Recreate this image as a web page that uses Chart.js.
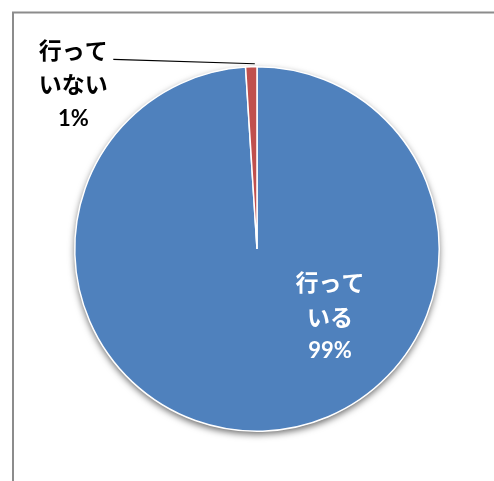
<!DOCTYPE html>
<html lang="ja">
<head>
<meta charset="utf-8">
<script src="https://cdn.jsdelivr.net/npm/chart.js@4/dist/chart.umd.min.js"></script>
<style>
  html, body { margin: 0; padding: 0; background: #ffffff; overflow: hidden; }
  #wrap { position: relative; width: 494px; height: 481px; }
</style>
</head>
<body>
<div id="wrap"><canvas id="chart" width="494" height="481"></canvas></div>
<script>
// Survey answers and their shares (%)
const categories = ['行っている', '行っていない'];
const labelLines = [['行って', 'いる'], ['行って', 'いない']];
const shares = [99, 1];
const sliceColors = ['#4F81BD', '#C0504D'];

// Chart frame (top and left edges visible) and pie drop shadow
const framePlugin = {
  id: 'frame',
  beforeDraw(chart) {
    const ctx = chart.ctx;
    ctx.save();
    ctx.strokeStyle = '#8c8c8c';
    ctx.lineWidth = 2;
    ctx.beginPath();
    ctx.moveTo(13, 600);
    ctx.lineTo(13, 12.5);
    ctx.lineTo(600, 12.5);
    ctx.stroke();
    ctx.restore();
  },
  beforeDatasetsDraw(chart) {
    const arc = chart.getDatasetMeta(0).data[0];
    if (!arc) return;
    const ctx = chart.ctx;
    ctx.save();
    ctx.shadowColor = 'rgba(0,0,0,0.6)';
    ctx.shadowBlur = 7;
    ctx.shadowOffsetY = 3;
    ctx.fillStyle = '#ffffff';
    ctx.beginPath();
    ctx.arc(arc.x, arc.y, arc.outerRadius, 0, Math.PI * 2);
    ctx.fill();
    ctx.restore();
  }
};

// Data labels: category name plus percentage, placed relative to the pie
const labelPlugin = {
  id: 'sliceLabels',
  afterDatasetsDraw(chart) {
    const meta = chart.getDatasetMeta(0);
    const ctx = chart.ctx;
    const cx = meta.data[0].x, cy = meta.data[0].y, r = meta.data[0].outerRadius;
    // label anchor positions as fractions of the radius from the centre
    const anchors = [
      { dx: 0.40, dy: 0.185, color: '#ffffff', gapName: 35, gapPct: 33 },
      { dx: -1.008, dy: -1.09, color: '#000000', gapName: 34, gapPct: 35 }
    ];
    ctx.save();
    ctx.textAlign = 'center';
    ctx.textBaseline = 'middle';
    shares.forEach((v, i) => {
      const a = anchors[i];
      const x = cx + a.dx * r, y = cy + a.dy * r;
      ctx.fillStyle = a.color;
      ctx.font = 'bold 23px "Noto Sans CJK JP"';
      labelLines[i].forEach((t, k) => ctx.fillText(t, x, y + k * a.gapName));
      ctx.font = 'bold 22px Lato, "Noto Sans CJK JP"';
      ctx.fillText(v + '%', x, y + (labelLines[i].length - 1) * a.gapName + a.gapPct);
    });
    // leader line for the small slice
    const small = meta.data[1];
    const ang = small.endAngle - 0.012;
    const ex = cx + Math.cos(ang) * (r + 1), ey = cy + Math.sin(ang) * (r + 1);
    const lx = cx - 1.008 * r + 40, ly = cy - 1.09 * r + 9;
    ctx.strokeStyle = '#000000';
    ctx.lineWidth = 1.2;
    ctx.beginPath();
    ctx.moveTo(lx, ly);
    ctx.lineTo(ex, ey - 2);
    ctx.stroke();
    ctx.restore();
  }
};

new Chart(document.getElementById('chart'), {
  type: 'pie',
  data: {
    labels: categories,
    datasets: [{
      data: shares,
      backgroundColor: sliceColors,
      borderColor: '#ffffff',
      borderWidth: 1.5
    }]
  },
  options: {
    responsive: false,
    animation: false,
    layout: { padding: { left: 74, right: 54, top: 66, bottom: 49 } },
    plugins: {
      legend: { display: false },
      tooltip: { enabled: false }
    }
  },
  plugins: [framePlugin, labelPlugin]
});
</script>
</body>
</html>
